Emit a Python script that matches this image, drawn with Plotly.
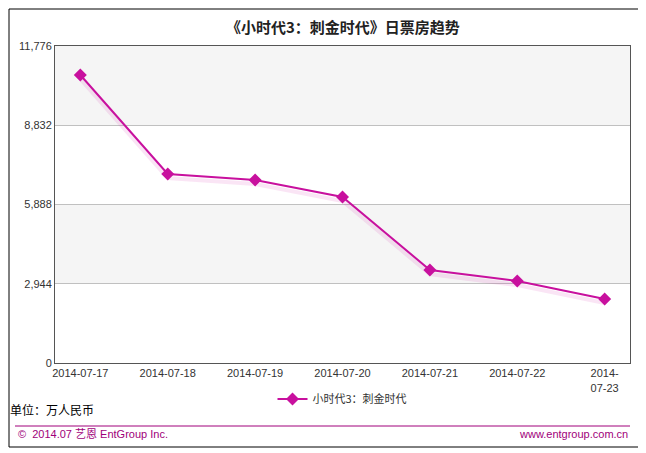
import plotly.graph_objects as go

dates = ["2014-07-17","2014-07-18","2014-07-19","2014-07-20","2014-07-21","2014-07-22","2014-07-23"]
tick_labels = ["2014-07-17","2014-07-18","2014-07-19","2014-07-20","2014-07-21","2014-07-22","2014-<br>07-23"]
values = [10699, 7021, 6798, 6167, 3455, 3046, 2378]
y_ticks = [0, 2944, 5888, 8832, 11776]
series_name = "小时代3：刺金时代"

# page body has 8px margin: shift everything by -8
OFF = 8
L, T, PW, PH = 55 - OFF, 46 - OFF, 575, 317

def py(ref_y):
    return (363 - ref_y) / PH

def px(ref_x):
    return (ref_x - 55) / PW

xs = list(range(len(dates)))
fig = go.Figure()
fig.add_trace(go.Scatter(x=xs, y=[v - 150 for v in values], mode="lines", line=dict(color="rgba(204,0,153,0.10)", width=4),
                         showlegend=False, hoverinfo="skip"))
fig.add_trace(go.Scatter(x=xs, y=values, mode="lines+markers", name=series_name,
                         line=dict(color="#C8109E", width=2),
                         marker=dict(symbol="diamond", size=10, color="#C8109E")))
for i in range(len(y_ticks) - 1):
    if i % 2 == 1:
        fig.add_shape(type="rect", xref="paper", yref="y", x0=0, x1=1, y0=y_ticks[i], y1=y_ticks[i+1],
                      fillcolor="#F5F5F5", line_width=0, layer="below")
fig.add_shape(type="rect", xref="paper", yref="paper", x0=px(9), x1=px(640),
              y0=py(447), y1=py(9), line=dict(color="black", width=1))
fig.add_shape(type="line", xref="paper", yref="paper", x0=px(15), x1=1, y0=py(426), y1=py(426),
              line=dict(color="#A0007A", width=1))
font = "Liberation Sans, Noto Sans CJK SC, sans-serif"
fig.add_annotation(text="<b>《小时代3：刺金时代》日票房趋势</b>", xref="paper", yref="paper", x=0.5, y=py(27),
                   showarrow=False, font=dict(size=15, color="#222", family="Noto Sans CJK SC"), yanchor="middle")
fig.add_annotation(text="单位：万人民币", xref="paper", yref="paper", x=px(8), y=py(409), xanchor="left",
                   showarrow=False, font=dict(size=12, color="black", family="Noto Sans CJK SC"), yanchor="middle")
fig.add_annotation(text="©  2014.07 艺恩 EntGroup Inc.", xref="paper", yref="paper", x=px(16), y=py(434),
                   xanchor="left", showarrow=False, font=dict(size=11, color="#A0007A", family=font), yanchor="middle")
fig.add_annotation(text="www.entgroup.com.cn", xref="paper", yref="paper", x=px(630), y=py(434),
                   xanchor="right", showarrow=False, font=dict(size=11, color="#A0007A", family=font), yanchor="middle")
fig.update_layout(
    width=646 - OFF - 2, height=453 - OFF - 2, margin=dict(l=L, r=646 - OFF - 2 - L - PW, t=T, b=453 - OFF - 2 - T - PH),
    plot_bgcolor="white", paper_bgcolor="white",
    font=dict(family=font, size=11, color="#333"),
    showlegend=True,
    legend=dict(orientation="h", x=0.5, xanchor="center", y=py(399), yanchor="middle",
                font=dict(size=11, color="#333", family="Noto Sans CJK SC")),
    xaxis=dict(range=[-0.29, 6.29], tickvals=xs, ticktext=tick_labels, showgrid=False, showline=True,
               linecolor="#555", mirror=True, ticks="", zeroline=False, tickfont=dict(size=11, color="#333")),
    yaxis=dict(range=[0, 11776], tickvals=y_ticks, ticktext=[f"{v:,}" for v in y_ticks], showgrid=True,
               gridcolor="#C0C0C0", showline=True, linecolor="#555", mirror=True, zeroline=False,
               tickfont=dict(size=11, color="#333")),
)
fig.write_html("out.html")
